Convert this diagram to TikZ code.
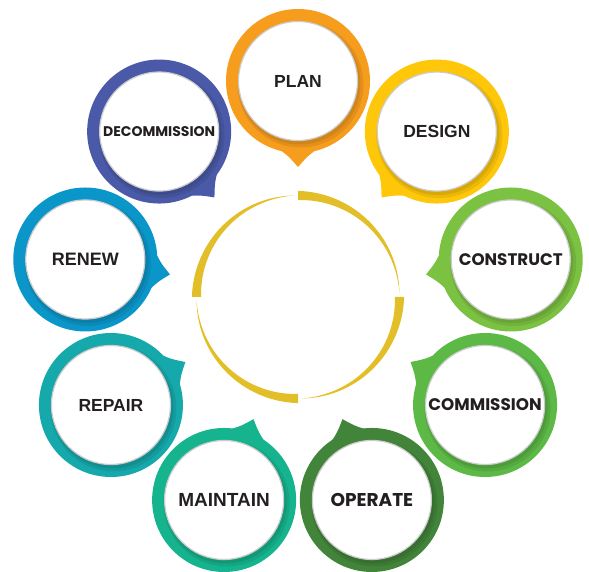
\documentclass[tikz,border=0pt]{standalone}
\usepackage{fontspec}
\usetikzlibrary{calc}

\newfontfamily\arialish{Liberation Sans}
\newfontfamily\geoish{Poppins}

\definecolor{plan}{HTML}{F79D1E}
\definecolor{design}{HTML}{FFC709}
\definecolor{construct}{HTML}{7CC242}
\definecolor{commission}{HTML}{5CB946}
\definecolor{operate}{HTML}{42843A}
\definecolor{maintain}{HTML}{16B48E}
\definecolor{repair}{HTML}{16A9AC}
\definecolor{renew}{HTML}{0B96C9}
\definecolor{decommission}{HTML}{4A5AA8}
\definecolor{ring}{HTML}{E2BF28}
\definecolor{ink}{HTML}{231F20}

\begin{document}
\begin{tikzpicture}[x=1pt,y=1pt,
  bubble/.style={circle, fill=white, draw=black!20, line width=1.2pt,
    minimum size=119pt, inner sep=0pt, text=ink, font=\bfseries}]
\useasboundingbox (0,0) rectangle (589,571);
\coordinate (C) at (298,274);

% tapered arcs round the middle
\foreach \s in {90,0,-90,180}
  \fill[ring, shift={(C)}]
    plot[domain=0:88, samples=45] ({\s-\x}:{106.1-4.6*\x/88})
    -- plot[domain=88:0, samples=45] ({\s-\x}:{96.9+4.6*\x/88}) -- cycle;

% the stages, 40 degrees apart
\foreach \a/\s/\t/\f/\z in {90/plan/PLAN/\arialish/17.5,
    50/design/DESIGN/\arialish/17.5,
    10/construct/CONSTRUCT/\geoish/16.7,
    -30/commission/COMMISSION/\geoish/16.8,
    -70/operate/OPERATE/\geoish/18.5,
    -110/maintain/MAINTAIN/\arialish/19,
    -150/repair/REPAIR/\arialish/17.5,
    170/renew/RENEW/\arialish/18,
    130/decommission/DECOMMISSION/\geoish/14}{
  \coordinate (\s-o) at ($(C)+(\a:216)$);
  % ring and its pointer
  \fill[\s] (\s-o) circle (72pt);
  \fill[\s] ($(\s-o)+(\a+197:70)$) .. controls ($(\s-o)+(\a+187:76)$) ..
    ($(\s-o)+(\a+180:86)$) .. controls ($(\s-o)+(\a+173:76)$) ..
    ($(\s-o)+(\a+163:70)$) -- cycle;
  % soft shadow under the disc
  \fill[black, opacity=.08] ($(\s-o)+(2.5,-3.5)$) circle (63pt);
  \fill[black, opacity=.08] ($(\s-o)+(1.5,-2.5)$) circle (61pt);
  \node[bubble] (\s) at (\s-o) {\raisebox{-2pt}{\f\fontsize{\z}{\z}\selectfont\t}};
}
\end{tikzpicture}
\end{document}
